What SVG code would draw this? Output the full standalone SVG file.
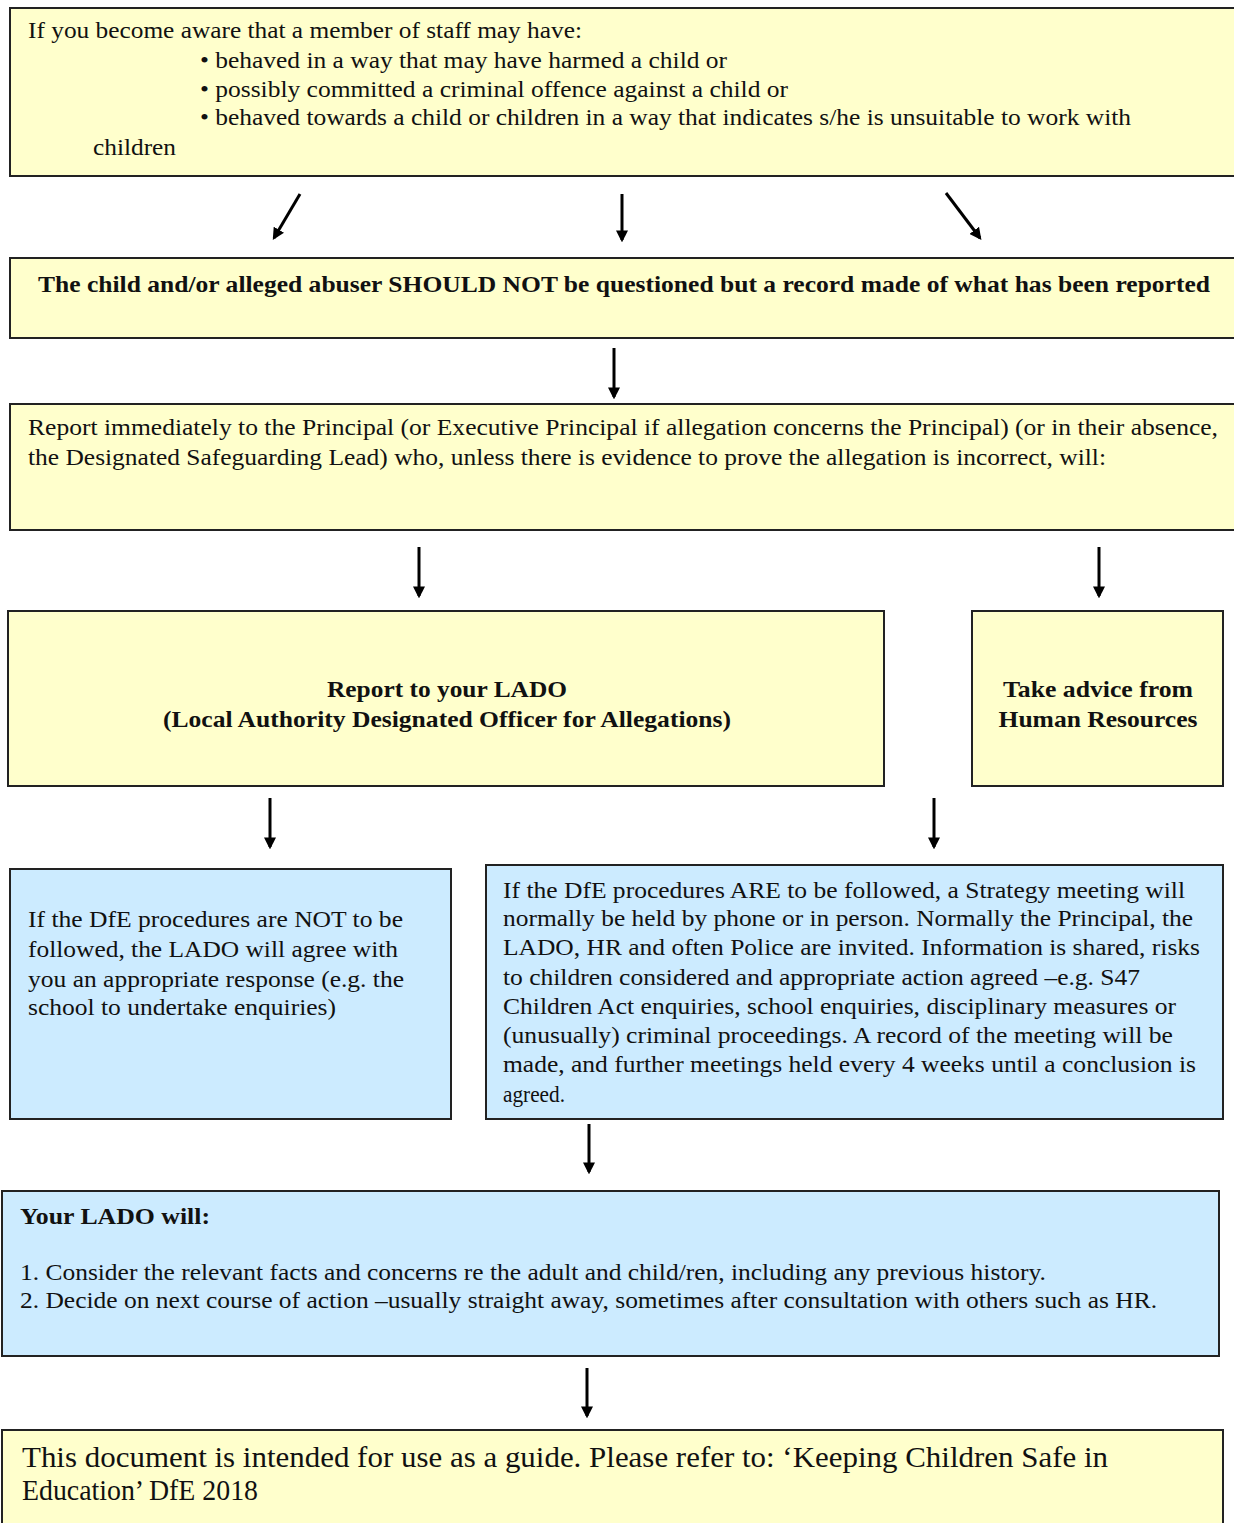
<svg xmlns="http://www.w3.org/2000/svg" width="1234" height="1523" viewBox="0 0 1234 1523">
<defs>
<style>
.y{fill:#FFFFCC;stroke:#222;stroke-width:2}
.b{fill:#CCEBFF;stroke:#222;stroke-width:2}
text{font-family:"Liberation Serif","Times New Roman",serif;font-size:24px;fill:#111}
.bd{font-weight:bold;font-size:23px}
.big{font-size:29px}
.c{text-anchor:middle}
.ar{stroke:#000;stroke-width:3;fill:none;marker-end:url(#ah)}
</style>
<marker id="ah" viewBox="0 0 10 10" refX="8" refY="5" markerWidth="4" markerHeight="4" orient="auto" markerUnits="strokeWidth">
<path d="M0,0 L10,5 L0,10 z" fill="#000"/>
</marker>
</defs>
<rect width="1234" height="1523" fill="#fff"/>

<g id="n1">
<rect class="y" x="10" y="8" width="1234" height="168"/>
<text x="28" y="38" textLength="554" lengthAdjust="spacingAndGlyphs">If you become aware that a member of staff may have:</text>
<text x="200" y="68" textLength="527" lengthAdjust="spacingAndGlyphs">• behaved in a way that may have harmed a child or</text>
<text x="200" y="97" textLength="588" lengthAdjust="spacingAndGlyphs">• possibly committed a criminal offence against a child or</text>
<text x="200" y="125" textLength="931" lengthAdjust="spacingAndGlyphs">• behaved towards a child or children in a way that indicates s/he is unsuitable to work with</text>
<text x="93" y="155" textLength="83" lengthAdjust="spacingAndGlyphs">children</text>
</g>

<g id="n2">
<rect class="y" x="10" y="258" width="1234" height="80"/>
<text class="bd" x="38" y="292" textLength="1172" lengthAdjust="spacingAndGlyphs">The child and/or alleged abuser SHOULD NOT be questioned but a record made of what has been reported</text>
</g>

<g id="n3">
<rect class="y" x="10" y="404" width="1234" height="126"/>
<text x="28" y="435" textLength="1190" lengthAdjust="spacingAndGlyphs">Report immediately to the Principal (or Executive Principal if allegation concerns the Principal) (or in their absence,</text>
<text x="28" y="465" textLength="1078" lengthAdjust="spacingAndGlyphs">the Designated Safeguarding Lead) who, unless there is evidence to prove the allegation is incorrect, will:</text>
</g>

<g id="n4">
<rect class="y" x="8" y="611" width="876" height="175"/>
<text class="bd c" x="447" y="697" textLength="240" lengthAdjust="spacingAndGlyphs">Report to your LADO</text>
<text class="bd c" x="447" y="727" textLength="568" lengthAdjust="spacingAndGlyphs">(Local Authority Designated Officer for Allegations)</text>
</g>

<g id="n5">
<rect class="y" x="972" y="611" width="251" height="175"/>
<text class="bd c" x="1098" y="697" textLength="190" lengthAdjust="spacingAndGlyphs">Take advice from</text>
<text class="bd c" x="1098" y="727" textLength="199" lengthAdjust="spacingAndGlyphs">Human Resources</text>
</g>

<g id="n6">
<rect class="b" x="10" y="869" width="441" height="250"/>
<text x="28" y="927" textLength="375" lengthAdjust="spacingAndGlyphs">If the DfE procedures are NOT to be</text>
<text x="28" y="957" textLength="370" lengthAdjust="spacingAndGlyphs">followed, the LADO will agree with</text>
<text x="28" y="987" textLength="376" lengthAdjust="spacingAndGlyphs">you an appropriate response (e.g. the</text>
<text x="28" y="1015" textLength="308" lengthAdjust="spacingAndGlyphs">school to undertake enquiries)</text>
</g>

<g id="n7">
<rect class="b" x="486" y="865" width="737" height="254"/>
<text x="503" y="898" textLength="682" lengthAdjust="spacingAndGlyphs">If the DfE procedures ARE to be followed, a Strategy meeting will</text>
<text x="503" y="926" textLength="690" lengthAdjust="spacingAndGlyphs">normally be held by phone or in person. Normally the Principal, the</text>
<text x="503" y="955" textLength="697" lengthAdjust="spacingAndGlyphs">LADO, HR and often Police are invited. Information is shared, risks</text>
<text x="503" y="985" textLength="637" lengthAdjust="spacingAndGlyphs">to children considered and appropriate action agreed –e.g. S47</text>
<text x="503" y="1014" textLength="673" lengthAdjust="spacingAndGlyphs">Children Act enquiries, school enquiries, disciplinary measures or</text>
<text x="503" y="1043" textLength="670" lengthAdjust="spacingAndGlyphs">(unusually) criminal proceedings. A record of the meeting will be</text>
<text x="503" y="1072" textLength="693" lengthAdjust="spacingAndGlyphs">made, and further meetings held every 4 weeks until a conclusion is</text>
<text x="503" y="1102" textLength="62" lengthAdjust="spacingAndGlyphs">agreed.</text>
</g>

<g id="n8">
<rect class="b" x="2" y="1191" width="1217" height="165"/>
<text class="bd" x="20" y="1224" textLength="190" lengthAdjust="spacingAndGlyphs">Your LADO will:</text>
<text x="20" y="1280" textLength="1026" lengthAdjust="spacingAndGlyphs">1. Consider the relevant facts and concerns re the adult and child/ren, including any previous history.</text>
<text x="20" y="1308" textLength="1137" lengthAdjust="spacingAndGlyphs">2. Decide on next course of action –usually straight away, sometimes after consultation with others such as HR.</text>
</g>

<g id="n9">
<rect class="y" x="2" y="1430" width="1221" height="110"/>
<text class="big" x="22" y="1467" textLength="1086" lengthAdjust="spacingAndGlyphs">This document is intended for use as a guide. Please refer to: ‘Keeping Children Safe in</text>
<text class="big" x="22" y="1500" textLength="236" lengthAdjust="spacingAndGlyphs">Education’ DfE 2018</text>
</g>

<g id="connectors">
<line class="ar" x1="300" y1="194" x2="274" y2="238"/>
<line class="ar" x1="622" y1="194" x2="622" y2="240"/>
<line class="ar" x1="946" y1="193" x2="980" y2="238"/>
<line class="ar" x1="614" y1="348" x2="614" y2="397"/>
<line class="ar" x1="419" y1="547" x2="419" y2="596"/>
<line class="ar" x1="1099" y1="547" x2="1099" y2="596"/>
<line class="ar" x1="270" y1="798" x2="270" y2="847"/>
<line class="ar" x1="934" y1="798" x2="934" y2="847"/>
<line class="ar" x1="589" y1="1124" x2="589" y2="1172"/>
<line class="ar" x1="587" y1="1368" x2="587" y2="1416"/>
</g>
</svg>
